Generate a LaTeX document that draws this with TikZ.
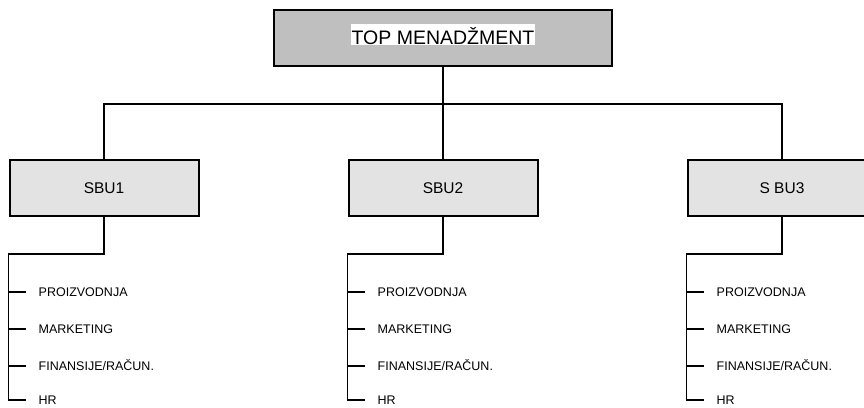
\documentclass[tikz,border=0pt]{standalone}
\usepackage{fontspec}
\setmainfont{Liberation Sans}

\begin{document}
\begin{tikzpicture}[x=1pt,y=1pt,line width=1.4pt,
    topbox/.style={draw,line width=2pt,fill=black!25,minimum width=338pt,minimum height=56pt,inner sep=0},
    toplabel/.style={fill=white,inner xsep=1pt,inner ysep=0pt,text height=20pt,text depth=1pt,font=\fontsize{19.5}{22}\selectfont},
    sbubox/.style={draw,line width=2pt,fill=black!11,minimum width=189pt,minimum height=56pt,font=\fontsize{15.5}{18}\selectfont},
    item/.style={anchor=west,inner sep=3pt,text height=9pt,text depth=0pt,font=\fontsize{12.5}{14}\selectfont}]
        \useasboundingbox (0,0) rectangle (864,-407);
        \clip (0,0) rectangle (864,-407);
        % top level
        \node[topbox] (top) at (443,-38) {};
        \node[toplabel,anchor=base] (toplbl) at (443,-44) {TOP MENAD\v{Z}MENT};
        % business units
        \node[sbubox] (sbu1) at (104,-188) {SBU1};
        \node[sbubox] (sbu2) at (443,-188) {SBU2};
        \node[sbubox] (sbu3) at (782,-188) {S BU3};
        \coordinate (bus) at (0,-104);
        \draw (top.south) -- (sbu2.north);
        \draw (sbu1.north) |- (bus -| sbu3.north) -- (sbu3.north);
        % functions SBU1
        \node[item] (it11) at (35,-292) {PROIZVODNJA};
        \node[item] (it12) at (35,-329) {MARKETING};
        \node[item] (it13) at (35,-366) {FINANSIJE/RA\v{C}UN.};
        \node[item] (it14) at (35,-400) {HR};
        \coordinate (k1) at ([yshift=-37pt]sbu1.south west);
        \draw (sbu1.south) |- (k1) |- ([xshift=-9pt]it14.west);
        \draw (k1 |- it11.west) -- ([xshift=-9pt]it11.west);
        \draw (k1 |- it12.west) -- ([xshift=-9pt]it12.west);
        \draw (k1 |- it13.west) -- ([xshift=-9pt]it13.west);
        % functions SBU2
        \node[item] (it21) at (374,-292) {PROIZVODNJA};
        \node[item] (it22) at (374,-329) {MARKETING};
        \node[item] (it23) at (374,-366) {FINANSIJE/RA\v{C}UN.};
        \node[item] (it24) at (374,-400) {HR};
        \coordinate (k2) at ([yshift=-37pt]sbu2.south west);
        \draw (sbu2.south) |- (k2) |- ([xshift=-9pt]it24.west);
        \draw (k2 |- it21.west) -- ([xshift=-9pt]it21.west);
        \draw (k2 |- it22.west) -- ([xshift=-9pt]it22.west);
        \draw (k2 |- it23.west) -- ([xshift=-9pt]it23.west);
        % functions SBU3
        \node[item] (it31) at (713,-292) {PROIZVODNJA};
        \node[item] (it32) at (713,-329) {MARKETING};
        \node[item] (it33) at (713,-366) {FINANSIJE/RA\v{C}UN.};
        \node[item] (it34) at (713,-400) {HR};
        \coordinate (k3) at ([yshift=-37pt]sbu3.south west);
        \draw (sbu3.south) |- (k3) |- ([xshift=-9pt]it34.west);
        \draw (k3 |- it31.west) -- ([xshift=-9pt]it31.west);
        \draw (k3 |- it32.west) -- ([xshift=-9pt]it32.west);
        \draw (k3 |- it33.west) -- ([xshift=-9pt]it33.west);
      \end{tikzpicture}
\end{document}
